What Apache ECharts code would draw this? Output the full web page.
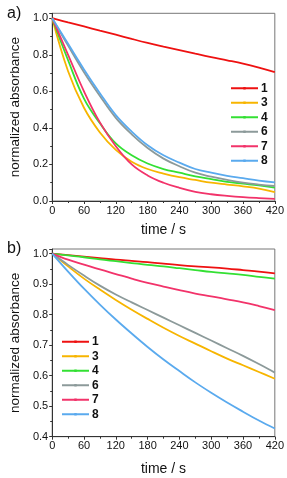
<!DOCTYPE html>
<html><head><meta charset="utf-8">
<script src="https://cdn.jsdelivr.net/npm/echarts@6/dist/echarts.min.js"></script>
<style>html,body{margin:0;padding:0;background:#fff}#c{width:287px;height:478px}</style>
</head><body><div id="c"></div>
<script>
const times = [0,30,60,90,120,150,180,210,240,270,300,330,360,390,420];
const xTicks = [0,60,120,180,240,300,360,420];
const seriesNames = ['1','3','4','6','7','8'];
const colors = ['#ee1111','#f7b500','#33e033','#8c9a9a','#f2336a','#5aaaee'];

// panel a
const a1 = [1.0,0.977,0.955,0.932,0.91,0.887,0.865,0.845,0.826,0.806,0.787,0.77,0.752,0.73,0.705];
const a3 = [1.0,0.71,0.51,0.375,0.28,0.215,0.175,0.15,0.13,0.115,0.1,0.09,0.08,0.068,0.048];
const a4 = [1.0,0.77,0.56,0.425,0.315,0.25,0.205,0.175,0.155,0.135,0.12,0.105,0.095,0.085,0.073];
const a6 = [1.0,0.85,0.705,0.575,0.455,0.365,0.29,0.232,0.19,0.155,0.133,0.115,0.1,0.09,0.082];
const a7 = [1.0,0.8,0.6,0.43,0.3,0.2,0.14,0.1,0.072,0.05,0.037,0.028,0.021,0.016,0.012];
const a8 = [1.0,0.86,0.72,0.59,0.47,0.38,0.305,0.25,0.21,0.175,0.155,0.138,0.125,0.112,0.102];
// panel b
const b1 = [1.0,0.995,0.99,0.985,0.98,0.976,0.972,0.967,0.962,0.958,0.955,0.951,0.946,0.941,0.935];
const b3 = [1.0,0.958,0.918,0.882,0.848,0.816,0.786,0.757,0.73,0.705,0.68,0.656,0.634,0.612,0.59];
const b4 = [1.0,0.994,0.988,0.981,0.975,0.969,0.963,0.958,0.952,0.946,0.94,0.935,0.93,0.924,0.918];
const b6 = [1.0,0.963,0.928,0.895,0.866,0.84,0.815,0.79,0.765,0.74,0.715,0.69,0.665,0.638,0.61];
const b7 = [1.0,0.98,0.964,0.948,0.933,0.918,0.904,0.892,0.88,0.869,0.86,0.85,0.84,0.828,0.815];
const b8 = [1.0,0.941,0.885,0.833,0.784,0.738,0.694,0.653,0.615,0.578,0.544,0.512,0.482,0.453,0.427];

const A = [a1,a3,a4,a6,a7,a8];
const B = [b1,b3,b4,b6,b7,b8];
const font = '"Liberation Sans", Arial, sans-serif';

function xAxis(gi, gap){
  return {type:'value', gridIndex:gi, min:0, max:420, interval:60,
    name:'time / s', nameLocation:'middle', nameGap:gap,
    nameTextStyle:{fontFamily:font, fontSize:14, color:'#111'},
    axisLine:{show:true, onZero:false, lineStyle:{color:'#333', width:1}},
    axisTick:{show:true, inside:false, length:3, lineStyle:{color:'#333'}},
    minorTick:{show:true, splitNumber:2, length:2, lineStyle:{color:'#333'}},
    splitLine:{show:false},
    axisLabel:{fontFamily:font, fontSize:11, color:'#111', margin:4,
      formatter:v => xTicks.includes(v) ? String(v) : ''}};
}
function yAxis(gi, min, max, interval, minorSplit){
  return {type:'value', gridIndex:gi, min:min, max:max, interval:interval,
    name:'normalized absorbance', nameLocation:'middle', nameGap:25,
    nameTextStyle:{fontFamily:font, fontSize:13.5, color:'#111'},
    axisLine:{show:true, onZero:false, lineStyle:{color:'#333', width:1}},
    axisTick:{show:true, inside:false, length:3, lineStyle:{color:'#333'}},
    minorTick:{show:true, splitNumber:minorSplit, length:2, lineStyle:{color:'#333'}},
    splitLine:{show:false},
    axisLabel:{fontFamily:font, fontSize:11, color:'#111', margin:4, showMaxLabel:false,
      formatter:v => {const k = Math.round(v/interval); return Math.abs(k*interval - v) < 1e-6 ? v.toFixed(1) : '';}}};
}

const series = [];
[A,B].forEach((set, gi) => {
  set.forEach((vals, i) => {
    series.push({type:'line', name:seriesNames[i], xAxisIndex:gi, yAxisIndex:gi,
      data: times.map((t,j)=>[t, vals[j]]), smooth:0.4,
      showSymbol:false, symbol:'rect', symbolSize:3,
      lineStyle:{width:1.8, color:colors[i]}, itemStyle:{color:colors[i]},
      emphasis:{disabled:true}, animation:false});
  });
});

function legend(left, top){
  return {left:left, top:top, orient:'vertical', data:seriesNames, padding:0,
    itemWidth:27, itemHeight:3, itemGap:0, selectedMode:false,
    textStyle:{fontFamily:font, fontSize:12, fontWeight:'bold', color:'#111', lineHeight:14.5, padding:[0,0,0,-2]}};
}

const chart = echarts.init(document.getElementById('c'), null, {renderer:'canvas'});
chart.setOption({
  animation:false,
  backgroundColor:'#fff',
  title:[
    {text:'a)', left:2, top:1, textStyle:{fontFamily:font, fontSize:16, fontWeight:'normal', color:'#111'}},
    {text:'b)', left:2, top:236, textStyle:{fontFamily:font, fontSize:16, fontWeight:'normal', color:'#111'}}
  ],
  grid:[
    {left:41.7, width:233.3, top:13.3, height:187.7, show:true, borderColor:'#777', borderWidth:1, backgroundColor:'transparent'},
    {left:41.7, width:233.3, top:249, height:187.7, show:true, borderColor:'#777', borderWidth:1, backgroundColor:'transparent'}
  ],
  xAxis:[xAxis(0,22), xAxis(1,25)],
  yAxis:[yAxis(0,0,1.027,0.2,2), yAxis(1,0.4,1.015,0.1,2)],
  legend:[legend(230,81), legend(61,334.5)],
  series:series
});
</script></body></html>
